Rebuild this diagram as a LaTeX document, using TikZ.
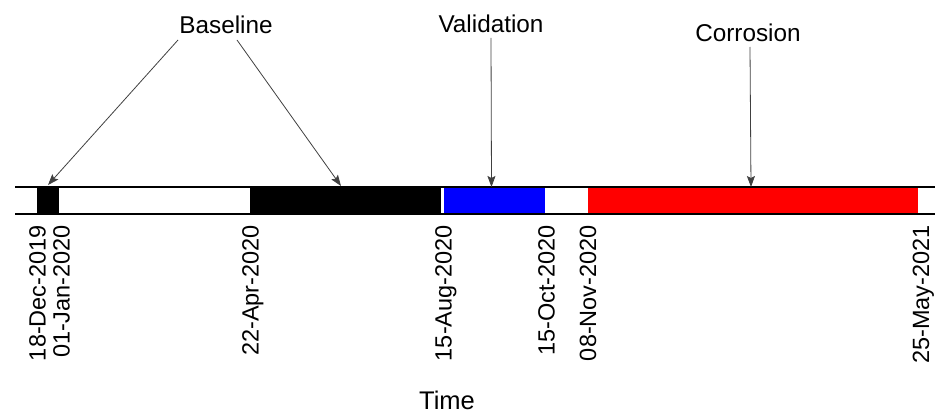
\documentclass[tikz,border=0pt]{standalone}
\usepackage{fontspec}
\setmainfont{Liberation Sans}
\usetikzlibrary{arrows.meta}
\tikzset{
  seg/.style={draw=none},
  barline/.style={line width=2pt, black},
  callout/.style={font=\fontsize{24.3}{28}\selectfont, inner sep=0pt},
  datelbl/.style={font=\fontsize{23.5}{28}\selectfont, rotate=90, anchor=base east, inner sep=0pt},
  arr/.style={draw=black!75, line width=0.8pt, -{Stealth[length=11pt,width=8pt,inset=2pt]}}
}
\begin{document}
\begin{tikzpicture}[x=1pt,y=-1pt]
\useasboundingbox (0,0) rectangle (935,417);
% segments
\fill[black] (37,188) rectangle (59,213);
\fill[black] (250,188) rectangle (441,213);
\fill[blue] (443.5,188) rectangle (545,213);
\fill[red] (588,188) rectangle (918,213);
% bar outline lines
\draw[barline] (15,187.5) -- (935,187.5);
\draw[barline] (15,213.5) -- (935,213.5);
% date labels
\node[datelbl] (d1) at (45.5,225) {18-Dec-2019};
\node[datelbl] (d2) at (69.5,225) {01-Jan-2020};
\node[datelbl] (d3) at (258.5,225) {22-Apr-2020};
\node[datelbl] (d4) at (451.5,225) {15-Aug-2020};
\node[datelbl] (d5) at (554.5,225) {15-Oct-2020};
\node[datelbl] (d6) at (596,225) {08-Nov-2020};
\node[datelbl] (d7) at (929,225) {25-May-2021};
% axis label
\node[callout, font=\fontsize{25.5}{30}\selectfont] (time) at (447,400) {Time};
% callouts
\node[callout] (bl) at (226,25) {Baseline};
\node[callout] (val) at (491,24) {Validation};
\node[callout] (cor) at (748,33) {Corrosion};
\coordinate (bls1) at (178,40);
\coordinate (bls2) at (237,40);
\coordinate (vals) at (491,38);
\coordinate (cors) at (750,47);
\coordinate (t1) at (48,185);
\coordinate (t2) at (341,186);
\coordinate (t3) at (491.5,187);
\coordinate (t4) at (751,187);
\draw[arr] (bls1) -- (t1);
\draw[arr] (bls2) -- (t2);
\draw[arr] (vals) -- (t3);
\draw[arr] (cors) -- (t4);
\end{tikzpicture}
\end{document}
